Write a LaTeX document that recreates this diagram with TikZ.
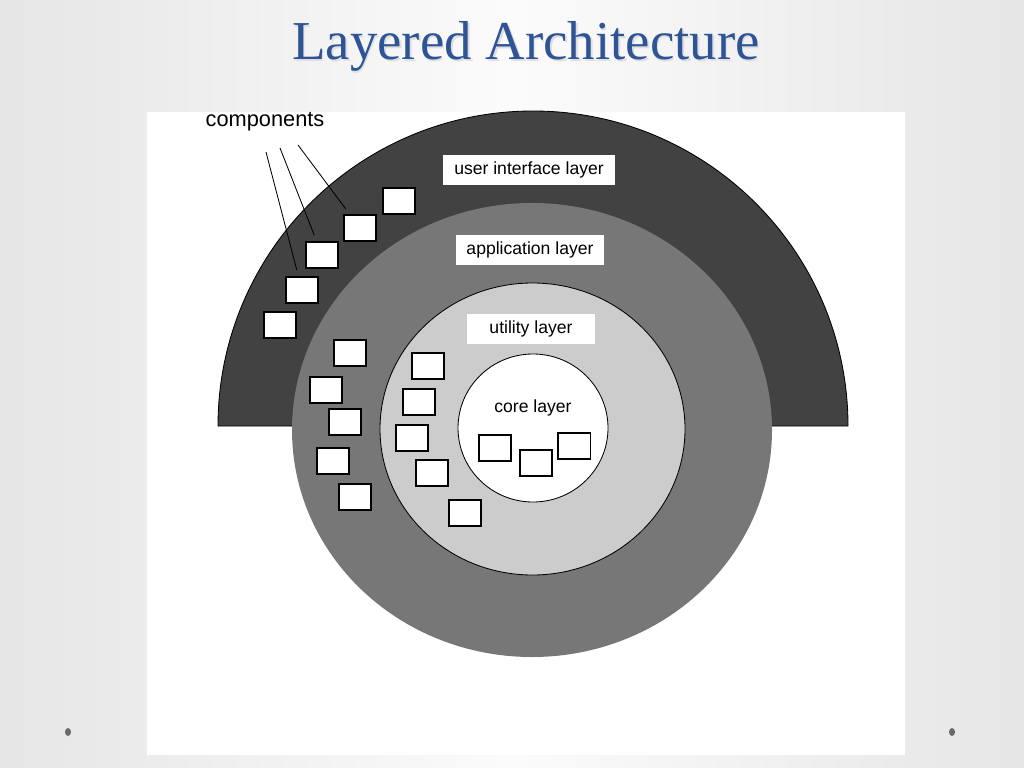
\documentclass[tikz,border=0pt]{standalone}
\usepackage{fontspec}
\setmainfont{Liberation Sans}
\newfontfamily\titlefont{Liberation Serif}
\definecolor{titleblue}{RGB}{46,84,150}
\definecolor{uidark}{RGB}{66,66,66}
\definecolor{appgray}{RGB}{119,119,119}
\definecolor{utilgray}{RGB}{204,204,204}
\definecolor{dotgray}{RGB}{105,105,105}

\begin{document}
\begin{tikzpicture}[x=0.025cm, y=-0.025cm,
	comp/.style = {draw, line width=1.3pt, fill=white, minimum width=0.82cm, minimum height=0.67cm, inner sep=0pt},
	lbl/.style = {fill=white, minimum height=0.725cm, inner sep=0pt, font=\fontsize{12.5}{14}\selectfont}]
	% slide
	\useasboundingbox (0,0) rectangle (1024,768);
	\shade[left color=gray!20, right color=gray!20, middle color=gray!3] (0,0) rectangle (1024,768);
	\fill[white] (147,112) rectangle (905,755);
	\fill[dotgray] (68,732) ellipse (3 and 4);
	\fill[dotgray] (952,732) ellipse (3 and 4);
	\node[font=\titlefont\fontsize{39}{44}\selectfont, text=gray!25, anchor=base] (shadow) at (527.5,61.5) {Layered Architecture};
	\node[font=\titlefont\fontsize{39}{44}\selectfont, text=titleblue, anchor=base] (title) at (526,60) {Layered Architecture};
	% layers
	\draw[fill=uidark, line width=0.6pt] (218,426) arc (180:360:315) -- cycle;
	\fill[appgray] (532,430) ellipse (240 and 227);
	\draw[fill=utilgray, line width=0.6pt] (532.5,429) ellipse (152.5 and 146);
	\draw[fill=white, line width=0.6pt] (533,428) ellipse (75 and 74);
	\node[lbl, minimum width=4.3cm] (ui) at (529,170) {user interface layer};
	\node[lbl, minimum width=3.7cm] (app) at (530,250) {application layer};
	\node[lbl, minimum width=3.175cm] (util) at (531,329) {utility layer};
	\node[font=\fontsize{12.5}{14}\selectfont] (core) at (533,408) {core layer};
	% components
	\foreach \n/\x/\y in {cA/399/201, cB/360/228, cC/322/255, cD/302/290, cE/280/325,
		cF/350/353, cG/326/390, cH/345/422, cI/333/461, cJ/355/497,
		cK/428/366, cL/419/402, cM/412/438, cN/432/473, cO/465/513,
		cP/495/448, cQ/536/463, cR/574/446}
		\node[comp] (\n) at (\x,\y) {};
	\node[font=\fontsize{15.5}{17}\selectfont] (comps) at (265,122) {components};
	\coordinate (l1) at (266,152);
	\coordinate (l2) at (280,148);
	\coordinate (l3) at (298,145);
	\draw[line width=0.6pt, shorten >=4pt] (l1) -- (cD);
	\draw[line width=0.6pt, shorten >=4pt] (l2) -- (cC);
	\draw[line width=0.6pt, shorten >=4pt] (l3) -- (cB);
\end{tikzpicture}
\end{document}
